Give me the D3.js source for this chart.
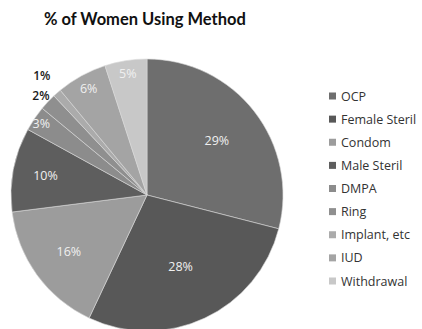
<!DOCTYPE html>
<html><head><meta charset="utf-8">
<script src="https://cdn.jsdelivr.net/npm/d3@7"></script>
<style>body{margin:0;background:#fff}svg{display:block}</style>
</head><body>
<script>
const categories = ["OCP","Female Steril","Condom","Male Steril","DMPA","Ring","Implant, etc","IUD","Withdrawal"];
const values = [29,28,16,10,3,2,1,6,5];
const colors = ["#6e6e6e","#585858","#9c9c9c","#5e5e5e","#8c8c8c","#8f8f8f","#ababab","#a4a4a4","#c8c8c8"];
const title = "% of Women Using Method";

// label placement (style): radius fraction and whether outside
const labelStyle = [
  {r:0.65,out:false},{r:0.58,out:false},{r:0.71,out:false},{r:0.76,out:false},
  {r:0.94,out:false},{r:1.07,out:true},{r:1.17,out:true},{r:0.89,out:false},{r:0.90,out:false}
];

const W=422,H=329, cx=147, cy=195, R=136;
const svg=d3.select("body").append("svg").attr("width",W).attr("height",H);

svg.append("text").attr("x",44).attr("y",25).text(title)
  .attr("font-family","Lato, 'Open Sans', sans-serif").attr("font-weight","bold")
  .attr("font-size",16.5).attr("fill","#111");

const pie=d3.pie().sort(null).value(d=>d)(values);
const arc=d3.arc().innerRadius(0).outerRadius(R);
const g=svg.append("g").attr("transform",`translate(${cx},${cy})`);
g.selectAll("path").data(pie).join("path").attr("d",arc)
  .attr("fill",(d,i)=>colors[i]).attr("stroke","#d8d8d8").attr("stroke-width",0.6);

g.selectAll("text.lbl").data(pie).join("text").attr("class","lbl")
  .attr("transform",(d,i)=>{
     const a=(d.startAngle+d.endAngle)/2, rr=R*labelStyle[i].r;
     return `translate(${Math.sin(a)*rr},${-Math.cos(a)*rr})`;})
  .attr("text-anchor","middle").attr("dy","0.35em")
  .attr("font-family","'Open Sans', sans-serif").attr("font-size",(d,i)=>labelStyle[i].out?12:12.5)
  .attr("font-weight",(d,i)=>labelStyle[i].out?"600":"normal")
  .attr("fill",(d,i)=>labelStyle[i].out?"#1a1a1a":"#f0f0f0")
  .text(d=>d.data+"%");

const leg=svg.append("g");
const ly=d3.scalePoint().domain(categories).range([96,281]);
categories.forEach((c,i)=>{
  leg.append("rect").attr("x",329).attr("y",ly(c)-3.5).attr("width",7).attr("height",7).attr("fill",colors[i]);
  leg.append("text").attr("x",341).attr("y",ly(c)).attr("dy","0.36em").text(c)
    .attr("font-family","'Open Sans', sans-serif").attr("font-size",12.5).attr("fill","#333");
});
</script>
</body></html>
